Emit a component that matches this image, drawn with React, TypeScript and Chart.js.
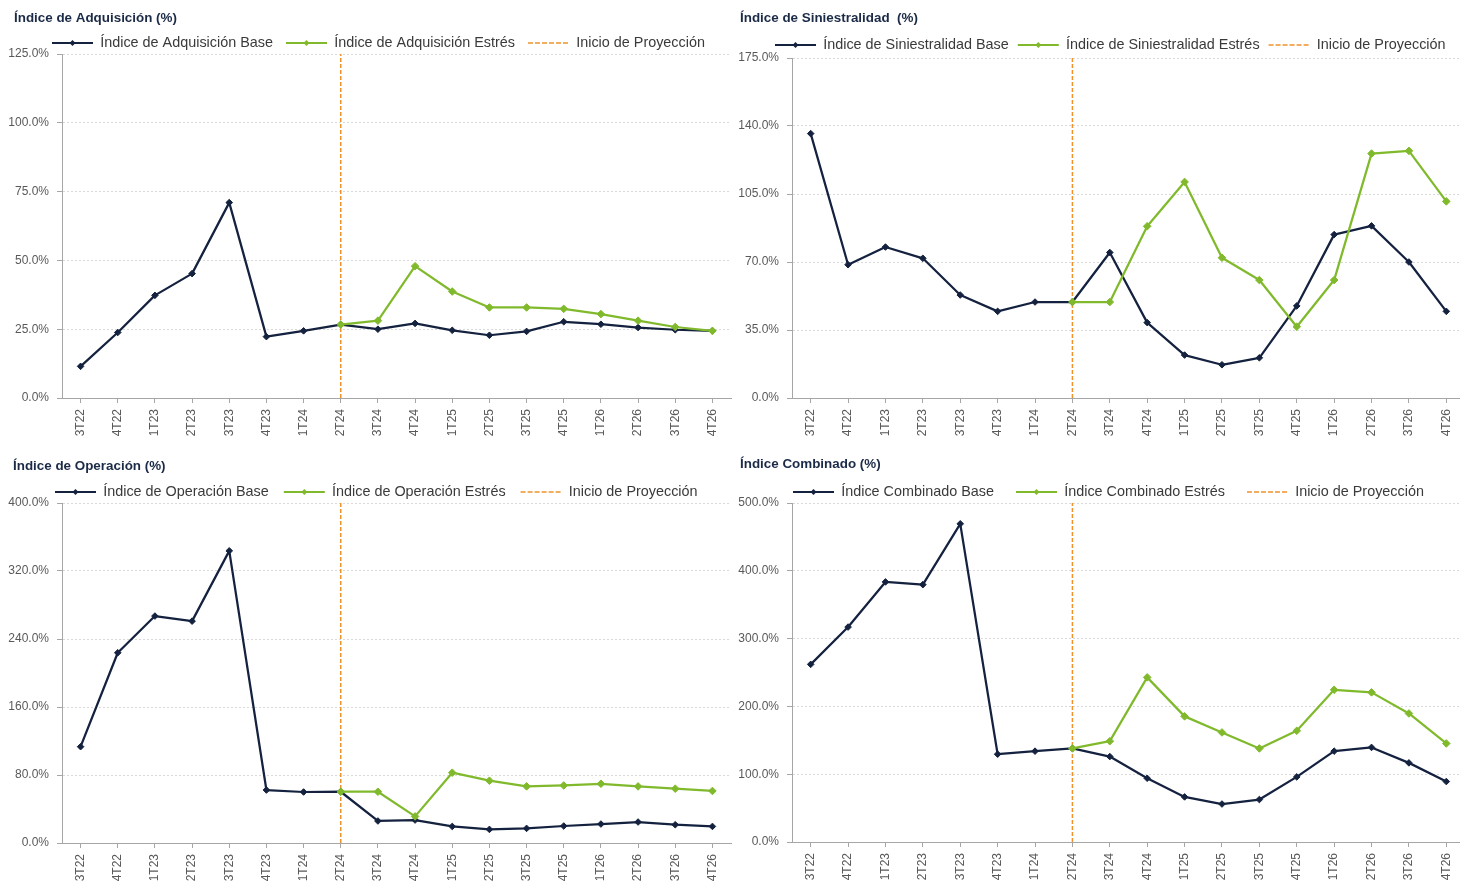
import React, { useEffect, useRef } from 'react';
import { Chart, registerables } from 'chart.js';

Chart.register(...registerables);

// ---------- Data ----------
const quarters = ['3T22', '4T22', '1T23', '2T23', '3T23', '4T23', '1T24', '2T24', '3T24', '4T24', '1T25', '2T25', '3T25', '4T25', '1T26', '2T26', '3T26', '4T26'];
const projectionStart = '2T24';

const adqBase = [11.5, 23.8, 37.3, 45.2, 71.0, 22.3, 24.4, 26.7, 25.0, 27.1, 24.6, 22.8, 24.2, 27.7, 26.8, 25.6, 24.8, 24.4];
const adqStress = [null, null, null, null, null, null, null, 26.7, 28.1, 47.9, 38.7, 32.9, 32.9, 32.4, 30.5, 28.1, 25.8, 24.4];

const sinBase = [136.1, 68.6, 77.7, 71.9, 53.0, 44.6, 49.4, 49.4, 74.9, 38.8, 22.1, 17.1, 20.7, 47.4, 84.1, 88.6, 70.0, 44.6];
const sinStress = [null, null, null, null, null, null, null, 49.4, 49.4, 88.4, 111.2, 72.2, 60.7, 36.7, 60.7, 125.8, 127.2, 101.2];

const opeBase = [113.3, 223.8, 267.0, 261.0, 343.7, 62.3, 60.0, 60.3, 25.9, 27.0, 19.5, 16.0, 17.2, 20.0, 22.3, 24.7, 21.5, 19.5];
const opeStress = [null, null, null, null, null, null, null, 60.3, 60.3, 31.3, 82.7, 73.3, 66.6, 67.7, 69.7, 66.6, 63.9, 61.2];

const comBase = [262.0, 317.0, 383.6, 379.6, 469.3, 129.5, 134.0, 138.0, 126.0, 94.0, 66.5, 56.0, 62.6, 96.0, 134.0, 139.5, 116.7, 89.2];
const comStress = [null, null, null, null, null, null, null, 138.0, 148.7, 242.8, 185.3, 161.6, 138.0, 164.0, 224.5, 220.7, 189.6, 145.3];

const adqTicks = { max: 125, step: 25 };
const sinTicks = { max: 175, step: 35 };
const opeTicks = { max: 400, step: 80 };
const comTicks = { max: 500, step: 100 };

const projectionLabel = 'Inicio de Proyección';

// ---------- Styles ----------
const NAVY = '#14223F';
const GREEN = '#80BA2C';
const ORANGE = '#F0922B';
const AXIS = '#A6A6A6';
const GRID = '#D9D9D9';
const TICK = '#595959';
const LEGEND_TXT = '#3A3A3A';
const TITLE_COLOR = '#1B2A47';
const FONT = "'Liberation Sans', Arial, sans-serif";
const TITLE_SIZE = 13.4;
const TITLE_LH = TITLE_SIZE * 1.2;
const LEGEND_SIZE = 14.4;

const layoutTune = {
  id: 'layoutTune',
  afterInit(chart: any, _args: any, opts: any) {
    chart.$tune = opts;
    const lg = chart.legend;
    if (lg) {
      const orig = lg.fit.bind(lg);
      lg.fit = () => {
        orig();
        const o = chart.$tune;
        if (o && o.legendH != null) lg.height = o.legendH;
      };
    }
    const tb = chart.titleBlock;
    if (tb) {
      const od = tb.draw.bind(tb);
      tb.draw = () => {
        const o = chart.$tune;
        const ctx = tb.ctx;
        ctx.save();
        ctx.translate((o && o.titleX ? o.titleX : 0), 0);
        od();
        ctx.restore();
      };
    }
  },
  afterUpdate(chart: any, _args: any, opts: any) {
    chart.$tune = opts;
    const lg = chart.legend;
    if (!lg || !lg.lineWidths) return;
    const p = lg.options.labels.padding;
    const cur = (lg.left + p + lg.right - lg.lineWidths[0]) / 2;
    const dx = opts.legendX - cur;
    lg.left += dx;
    lg.right += dx;
  },
  afterDraw(chart: any) {
    const lg = chart.legend;
    if (!lg || !lg.legendItems) return;
    const ctx = chart.ctx;
    const p = lg.options.labels.padding;
    const boxW = lg.options.labels.boxWidth;
    const fs = lg.options.labels.font.size;
    let x = (lg.left + p + lg.right - lg.lineWidths[0]) / 2;
    const y = lg.top + p + fs / 2;
    lg.legendItems.forEach((it: any, i: number) => {
      if (it.marker) {
        const cx = x + boxW / 2;
        const r = it.marker;
        ctx.save();
        ctx.fillStyle = it.strokeStyle;
        ctx.beginPath();
        ctx.moveTo(cx, y - r);
        ctx.lineTo(cx + r, y);
        ctx.lineTo(cx, y + r);
        ctx.lineTo(cx - r, y);
        ctx.closePath();
        ctx.fill();
        ctx.restore();
      }
      x += lg.legendHitBoxes[i].width + p;
    });
  },
};

type Panel = {
  title: string;
  baseLabel: string;
  stressLabel: string;
  base: (number | null)[];
  stress: (number | null)[];
  ticks: { max: number; step: number };
  left: number;
  top: number;
  width: number;
  height: number;
  padR: number;
  yAxisW: number;
  xAxisH: number;
  titleX: number;
  titleY: number;
  legendY: number;
  plotTop: number;
  legendPad: number;
  legendX: number;
};

const panels: Panel[] = [
  {
    title: 'Índice de Adquisición (%)', baseLabel: 'Índice de Adquisición Base', stressLabel: 'Índice de Adquisición Estrés',
    base: adqBase, stress: adqStress, ticks: adqTicks,
    left: 0, top: 0, width: 736, height: 440, padR: 2, yAxisW: 62, xAxisH: 42,
    titleX: 14, titleY: 18, legendY: 43, plotTop: 54, legendPad: 13, legendX: 52,
  },
  {
    title: 'Índice de Siniestralidad  (%)', baseLabel: 'Índice de Siniestralidad Base', stressLabel: 'Índice de Siniestralidad Estrés',
    base: sinBase, stress: sinStress, ticks: sinTicks,
    left: 730, top: 0, width: 740, height: 440, padR: 3, yAxisW: 62, xAxisH: 42,
    titleX: 10, titleY: 18, legendY: 45, plotTop: 58, legendPad: 9, legendX: 45,
  },
  {
    title: 'Índice de Operación (%)', baseLabel: 'Índice de Operación Base', stressLabel: 'Índice de Operación Estrés',
    base: opeBase, stress: opeStress, ticks: opeTicks,
    left: 0, top: 445, width: 736, height: 440, padR: 2, yAxisW: 62, xAxisH: 42,
    titleX: 13, titleY: 21, legendY: 47, plotTop: 58, legendPad: 15, legendX: 55,
  },
  {
    title: 'Índice Combinado (%)', baseLabel: 'Índice Combinado Base', stressLabel: 'Índice Combinado Estrés',
    base: comBase, stress: comStress, ticks: comTicks,
    left: 730, top: 445, width: 740, height: 440, padR: 3, yAxisW: 62, xAxisH: 43,
    titleX: 10, titleY: 19, legendY: 47, plotTop: 58, legendPad: 22, legendX: 63,
  },
];

function ChartPanel({ cfg }: { cfg: Panel }) {
  const ref = useRef<HTMLCanvasElement>(null);
  useEffect(() => {
    if (!ref.current) return;
    const legendTop = cfg.legendY - cfg.legendPad - LEGEND_SIZE / 2;
    const legendH = cfg.plotTop - legendTop;
    const titleT = cfg.titleY - TITLE_LH / 2;
    const titleB = legendTop - titleT - TITLE_LH;
    const chart = new Chart(ref.current, {
      type: 'line',
      data: {
        labels: quarters,
        datasets: [
          {
            label: cfg.baseLabel,
            data: cfg.base,
            borderColor: NAVY,
            backgroundColor: NAVY,
            borderWidth: 2.25,
            borderJoinStyle: 'round',
            pointStyle: 'rectRot',
            pointRadius: 3.3,
            pointBorderWidth: 1,
            pointBackgroundColor: NAVY,
            pointBorderColor: NAVY,
            tension: 0,
            order: 1,
          } as any,
          {
            label: cfg.stressLabel,
            data: cfg.stress,
            borderColor: GREEN,
            backgroundColor: GREEN,
            borderWidth: 2.25,
            borderJoinStyle: 'round',
            pointStyle: 'rectRot',
            pointRadius: 3.8,
            pointBorderWidth: 1,
            pointBackgroundColor: GREEN,
            pointBorderColor: GREEN,
            tension: 0,
            order: 0,
          } as any,
          {
            label: projectionLabel,
            data: [
              { x: projectionStart, y: 0 },
              { x: projectionStart, y: cfg.ticks.max },
            ],
            borderColor: ORANGE,
            backgroundColor: ORANGE,
            borderWidth: 1.5,
            borderDash: [4, 2],
            pointRadius: 0,
            order: 2,
          } as any,
        ],
      },
      options: {
        animation: false,
        responsive: false,
        maintainAspectRatio: false,
        devicePixelRatio: 1,
        events: [],
        layout: { padding: { left: 0, right: cfg.padR, top: 0, bottom: 0 } },
        plugins: {
          tooltip: { enabled: false },
          title: {
            display: true,
            text: cfg.title,
            align: 'start',
            color: TITLE_COLOR,
            font: { family: FONT, size: TITLE_SIZE, weight: 'bold', lineHeight: 1.2 },
            padding: { top: titleT, bottom: titleB },
          },
          legend: {
            display: true,
            position: 'top',
            align: 'center',
            labels: {
              boxWidth: 41,
              boxHeight: 0,
              padding: cfg.legendPad,
              color: LEGEND_TXT,
              font: { family: FONT, size: LEGEND_SIZE },
              generateLabels: () => [
                { text: cfg.baseLabel, fillStyle: 'transparent', strokeStyle: NAVY, lineWidth: 2, lineDash: [], hidden: false, datasetIndex: 0, fontColor: LEGEND_TXT, marker: 3 } as any,
                { text: cfg.stressLabel, fillStyle: 'transparent', strokeStyle: GREEN, lineWidth: 2, lineDash: [], hidden: false, datasetIndex: 1, fontColor: LEGEND_TXT, marker: 3 } as any,
                { text: projectionLabel, fillStyle: 'transparent', strokeStyle: ORANGE, lineWidth: 1.5, lineDash: [5, 2], hidden: false, datasetIndex: 2, fontColor: LEGEND_TXT } as any,
              ],
            },
          },
          layoutTune: { legendH, legendX: cfg.legendX, titleX: cfg.titleX },
        } as any,
        scales: {
          x: {
            type: 'category',
            offset: true,
            grid: { display: true, drawOnChartArea: false, drawTicks: true, tickLength: 5, tickColor: AXIS, color: AXIS },
            border: { display: true, color: AXIS, width: 1 },
            ticks: {
              autoSkip: false,
              maxRotation: 90,
              minRotation: 90,
              padding: 6,
              color: TICK,
              font: { family: FONT, size: 12 },
            },
            afterFit: (s: any) => { s.height = cfg.xAxisH; },
          },
          y: {
            min: 0,
            max: cfg.ticks.max,
            ticks: {
              stepSize: cfg.ticks.step,
              padding: 8,
              color: TICK,
              font: { family: FONT, size: 12 },
              callback: (v: any) => Number(v).toFixed(1) + '%',
            },
            grid: { color: GRID, lineWidth: 1, drawTicks: true, tickLength: 5, tickColor: AXIS },
            border: { display: true, color: AXIS, width: 1, dash: [2, 2] },
            afterFit: (s: any) => { s.width = cfg.yAxisW; },
          },
        },
      } as any,
      plugins: [layoutTune as any],
    });
    return () => chart.destroy();
  }, [cfg]);
  return (
    <canvas
      ref={ref}
      width={cfg.width}
      height={cfg.height}
      style={{ position: 'absolute', left: cfg.left, top: cfg.top, width: cfg.width, height: cfg.height }}
    />
  );
}

export default function App() {
  return (
    <div style={{ position: 'fixed', left: 0, top: 0, width: 1460, height: 882, overflow: 'hidden', background: '#ffffff' }}>
      {panels.map((p, i) => (
        <ChartPanel key={i} cfg={p} />
      ))}
    </div>
  );
}
